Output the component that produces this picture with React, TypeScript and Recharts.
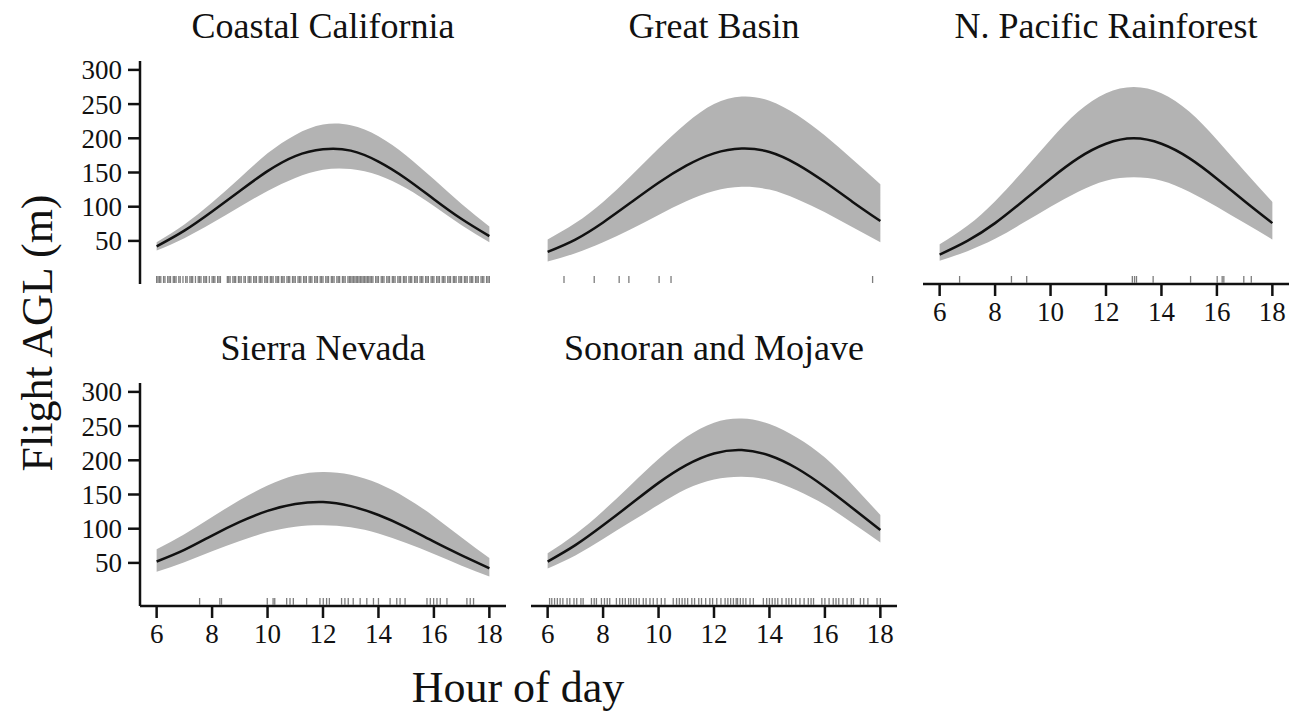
import React from 'react';
import { ComposedChart, Area, Line, Scatter, XAxis, YAxis } from 'recharts';

const HOURS = [6, 7, 8, 9, 10, 11, 12, 13, 14, 15, 16, 17, 18];
const X_TICKS = [6, 8, 10, 12, 14, 16, 18];
const Y_TICKS = [50, 100, 150, 200, 250, 300];

// Coastal California
const coastalFit = [42, 65, 93, 123, 152, 174, 184, 182, 166, 141, 111, 82, 57];
const coastalLo = [36, 54, 76, 100, 123, 142, 154, 155, 146, 127, 101, 73, 48];
const coastalHi = [48, 74, 106, 142, 178, 205, 220, 219, 203, 175, 140, 104, 71];
const coastalRug = [
  6.0, 6.05, 6.1, 6.15, 6.25, 6.3, 6.4, 6.45, 6.5, 6.6, 6.65, 6.7, 6.8, 6.85, 6.95, 7.05, 7.1, 7.2,
  7.25, 7.3, 7.4, 7.5, 7.55, 7.6, 7.7, 7.75, 7.8, 7.9, 8.0, 8.05, 8.1, 8.2, 8.25, 8.3, 8.55, 8.6,
  8.65, 8.75, 8.8, 8.85, 8.95, 9.0, 9.05, 9.15, 9.2, 9.3, 9.35, 9.4, 9.5, 9.55, 9.6, 9.7, 9.75, 9.8,
  9.9, 9.95, 10.0, 10.1, 10.15, 10.2, 10.3, 10.35, 10.4, 10.5, 10.55, 10.6, 10.7, 10.75, 10.8, 10.9,
  10.95, 11.0, 11.1, 11.15, 11.2, 11.3, 11.35, 11.4, 11.5, 11.55, 11.6, 11.7, 11.75, 11.8, 11.9,
  11.95, 12.0, 12.1, 12.15, 12.2, 12.3, 12.35, 12.4, 12.5, 12.55, 12.6, 12.7, 12.75, 12.8, 12.9,
  12.95, 13.0, 13.05, 13.1, 13.15, 13.2, 13.25, 13.3, 13.35, 13.4, 13.45, 13.5, 13.55, 13.6, 13.65,
  13.7, 13.75, 13.8, 13.9, 13.95, 14.0, 14.1, 14.15, 14.2, 14.3, 14.35, 14.4, 14.5, 14.55, 14.6,
  14.7, 14.75, 14.8, 14.9, 14.95, 15.0, 15.1, 15.15, 15.2, 15.3, 15.35, 15.4, 15.5, 15.55, 15.6,
  15.7, 15.75, 15.8, 15.9, 15.95, 16.0, 16.1, 16.15, 16.2, 16.3, 16.35, 16.4, 16.5, 16.55, 16.6,
  16.7, 16.75, 16.8, 16.9, 16.95, 17.0, 17.1, 17.15, 17.2, 17.3, 17.35, 17.4, 17.5, 17.55, 17.6,
  17.7, 17.75, 17.8, 17.9, 17.95, 18.0,
];

// Great Basin
const basinFit = [34, 52, 77, 106, 135, 160, 178, 185, 180, 162, 136, 107, 79];
const basinLo = [20, 32, 48, 67, 88, 108, 123, 129, 125, 111, 92, 70, 48];
const basinHi = [52, 76, 107, 145, 185, 222, 250, 261, 255, 234, 204, 169, 133];
const basinRug = [6.59, 7.68, 8.58, 8.93, 10.02, 10.45, 17.72];

// N. Pacific Rainforest
const pacificFit = [30, 50, 76, 108, 141, 171, 192, 200, 192, 171, 141, 108, 76];
const pacificLo = [21, 35, 53, 76, 100, 122, 138, 143, 138, 122, 100, 76, 52];
const pacificHi = [45, 72, 108, 152, 198, 239, 266, 275, 266, 239, 198, 152, 107];
const pacificRug = [6.72, 8.59, 9.14, 12.95, 13.03, 13.1, 13.7, 15.05, 16.01, 16.19, 16.25, 16.97, 17.24];

// Sierra Nevada
const sierraFit = [52, 69, 90, 110, 126, 136, 139, 133, 120, 102, 81, 61, 42];
const sierraLo = [37, 51, 67, 82, 95, 103, 105, 102, 93, 79, 63, 46, 30];
const sierraHi = [70, 92, 117, 142, 163, 178, 183, 179, 166, 145, 118, 87, 57];
const sierraRug = [
  7.55, 8.28, 8.34, 9.99, 10.2, 10.26, 10.69, 10.81, 10.93, 11.41, 11.89, 12.01, 12.13, 12.23,
  12.67, 12.79, 12.91, 13.09, 13.34, 13.58, 13.82, 14.0, 14.42, 14.66, 14.78, 14.96, 15.75, 15.87,
  15.99, 16.11, 16.23, 16.47, 17.19, 17.31, 17.43,
];

// Sonoran and Mojave
const sonoranFit = [52, 76, 105, 136, 167, 193, 210, 215, 207, 188, 161, 130, 98];
const sonoranLo = [42, 61, 85, 110, 135, 158, 172, 176, 171, 156, 135, 108, 80];
const sonoranHi = [64, 92, 126, 164, 202, 234, 255, 261, 253, 233, 204, 164, 120];
const sonoranRug = [
  6.07, 6.15, 6.25, 6.35, 6.45, 6.55, 6.7, 6.8, 6.95, 7.05, 7.2, 7.28, 7.58, 7.68, 7.76, 7.94, 8.05,
  8.15, 8.24, 8.48, 8.6, 8.7, 8.8, 8.92, 9.0, 9.1, 9.2, 9.3, 9.45, 9.55, 9.69, 9.81, 9.95, 10.1,
  10.23, 10.53, 10.65, 10.75, 10.85, 10.95, 11.05, 11.2, 11.3, 11.45, 11.55, 11.7, 11.85, 11.95,
  12.1, 12.25, 12.4, 12.5, 12.6, 12.7, 12.8, 12.85, 12.95, 13.05, 13.15, 13.3, 13.42, 13.78, 13.9,
  14.0, 14.1, 14.2, 14.3, 14.45, 14.6, 14.7, 14.8, 14.95, 15.1, 15.25, 15.4, 15.5, 15.59, 15.89,
  16.0, 16.15, 16.3, 16.4, 16.5, 16.65, 16.8, 16.95, 17.03, 17.28, 17.4, 17.55, 17.88, 18.0,
];

const FONT = '"Liberation Serif", "Times New Roman", serif';
const INK = '#111';
const BAND = '#b3b3b3';

const PLOT_W = 366;
const PLOT_H = 223;
const COLS = [140, 531, 923];
const ROWS = [61, 383];
const Y_DOMAIN = [-13, 313];
const X_DOMAIN = [5.4, 18.6];

const RugMark = (props: any) => {
  const { cx, cy } = props;
  if (cx == null || cy == null) return null;
  return <line x1={cx} x2={cx} y1={cy - 1} y2={cy - 8} stroke="#7d7d7d" strokeWidth={1.3} />;
};

interface PanelProps {
  title: string;
  fit: number[];
  lo: number[];
  hi: number[];
  rug: number[];
  col: number;
  row: number;
  showX: boolean;
  showY: boolean;
}

function Panel({ title, fit, lo, hi, rug, col, row, showX, showY }: PanelProps) {
  const data = HOURS.map((h, i) => ({ h, fit: fit[i], band: [lo[i], hi[i]] }));
  const rugData = rug.map((h) => ({ h, r: Y_DOMAIN[0] }));
  const plotLeft = COLS[col];
  const plotTop = ROWS[row];
  const tickStyle = { fontFamily: FONT, fontSize: 27, fill: INK };
  const lineStyle = { stroke: INK, strokeWidth: 2.5 };

  return (
    <>
      <div
        style={{
          position: 'absolute',
          left: plotLeft,
          top: plotTop - 53,
          width: PLOT_W,
          textAlign: 'center',
          fontFamily: FONT,
          fontSize: 36,
          lineHeight: '36px',
          color: INK,
        }}
      >
        {title}
      </div>
      <div style={{ position: 'absolute', left: plotLeft - 80, top: plotTop - 5 }}>
        <ComposedChart
          width={PLOT_W + 90}
          height={PLOT_H + 65}
          data={data}
          margin={{ top: 5, right: 10, left: showY ? 0 : 80, bottom: showX ? 0 : 60 }}
        >
          <XAxis
            dataKey="h"
            type="number"
            domain={X_DOMAIN}
            ticks={X_TICKS}
            interval={0}
            hide={!showX}
            height={60}
            tick={tickStyle}
            tickSize={12}
            tickMargin={6}
            tickLine={lineStyle}
            axisLine={lineStyle}
            allowDataOverflow
          />
          <YAxis
            type="number"
            domain={Y_DOMAIN}
            ticks={Y_TICKS}
            interval={0}
            hide={!showY}
            width={80}
            tick={tickStyle}
            tickSize={12}
            tickMargin={6}
            tickLine={lineStyle}
            axisLine={lineStyle}
            allowDataOverflow
          />
          <Area
            dataKey="band"
            type="natural"
            fill={BAND}
            fillOpacity={1}
            stroke="none"
            isAnimationActive={false}
          />
          <Line
            dataKey="fit"
            type="natural"
            stroke={INK}
            strokeWidth={2.5}
            dot={false}
            isAnimationActive={false}
          />
          <Scatter data={rugData} dataKey="r" shape={RugMark} isAnimationActive={false} />
        </ComposedChart>
      </div>
    </>
  );
}

export default function App() {
  return (
    <div
      style={{
        position: 'absolute',
        left: 0,
        top: 0,
        width: 1297,
        height: 713,
        background: '#fff',
        fontFamily: FONT,
        overflow: 'hidden',
      }}
    >
      <Panel title="Coastal California" fit={coastalFit} lo={coastalLo} hi={coastalHi} rug={coastalRug} col={0} row={0} showX={false} showY />
      <Panel title="Great Basin" fit={basinFit} lo={basinLo} hi={basinHi} rug={basinRug} col={1} row={0} showX={false} showY={false} />
      <Panel title="N. Pacific Rainforest" fit={pacificFit} lo={pacificLo} hi={pacificHi} rug={pacificRug} col={2} row={0} showX showY={false} />
      <Panel title="Sierra Nevada" fit={sierraFit} lo={sierraLo} hi={sierraHi} rug={sierraRug} col={0} row={1} showX showY />
      <Panel title="Sonoran and Mojave" fit={sonoranFit} lo={sonoranLo} hi={sonoranHi} rug={sonoranRug} col={1} row={1} showX showY={false} />
      <div
        style={{
          position: 'absolute',
          left: 38,
          top: 333,
          transform: 'translate(-50%, -50%) rotate(-90deg)',
          whiteSpace: 'nowrap',
          fontSize: 44,
          lineHeight: '44px',
          color: INK,
        }}
      >
        Flight AGL (m)
      </div>
      <div
        style={{
          position: 'absolute',
          left: 518,
          top: 688,
          transform: 'translate(-50%, -50%)',
          whiteSpace: 'nowrap',
          fontSize: 44,
          lineHeight: '44px',
          color: INK,
        }}
      >
        Hour of day
      </div>
    </div>
  );
}
